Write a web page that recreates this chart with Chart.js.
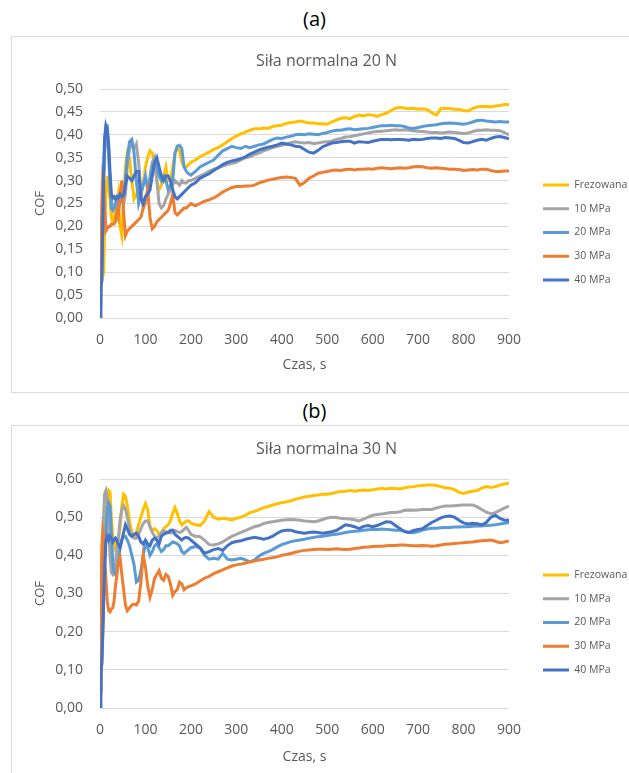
<!DOCTYPE html>
<html>
<head>
<meta charset="utf-8">
<script src="https://cdn.jsdelivr.net/npm/chart.js@4.4.1/dist/chart.umd.min.js"></script>
<style>
  html, body { margin: 0; padding: 0; background: #ffffff; overflow: hidden; width: 629px; height: 773px; }
  .cap { position: absolute; width: 629px; left: 0; text-align: center; font-family: 'Open Sans', sans-serif; font-size: 20px; color: #000; line-height: 24px; }
  .box { position: absolute; border: 1px solid #d9d9d9; background: #fff; }
  canvas { display: block; }
</style>
</head>
<body>
<div class="cap" style="top:7px;">(a)</div>
<div class="box" style="left:11px; top:36px; width:640px; height:355px;"><canvas id="chartA" width="640" height="355"></canvas></div>
<div class="cap" style="top:399px;">(b)</div>
<div class="box" style="left:11px; top:425px; width:640px; height:370px;"><canvas id="chartB" width="640" height="370"></canvas></div>
<script>
// ---------- data ----------
const seriesNames = ['Frezowana', '10 MPa', '20 MPa', '30 MPa', '40 MPa'];
const titleA = 'Siła normalna 20 N';
const titleB = 'Siła normalna 30 N';
const xTitle = 'Czas, s';
const yTitle = 'COF';
const xTicks = [0, 100, 200, 300, 400, 500, 600, 700, 800, 900];
const yTicksA = [0, 0.05, 0.10, 0.15, 0.20, 0.25, 0.30, 0.35, 0.40, 0.45, 0.50];
const yTicksB = [0, 0.10, 0.20, 0.30, 0.40, 0.50, 0.60];

const timeS = [0,2,4,6,8,10,13,16,19,22,25,28,31,34,37,40,44,48,52,56,60,65,70,75,80,85,90,95,100,105,110,115,120,125,130,135,140,145,150,155,160,165,170,175,180,185,190,195,200,
210,220,230,240,250,260,270,280,290,300,310,320,330,340,350,360,370,380,390,400,410,420,430,440,450,460,470,480,490,500,
510,520,530,540,550,560,570,580,590,600,610,620,630,640,650,660,670,680,690,700,710,720,730,740,750,760,770,780,790,800,
810,820,830,840,850,860,870,880,890,900];

// (a) 20 N
const frezA = [0.06,0.09,0.10,0.09,0.10,0.18,0.28,0.31,0.28,0.26,0.22,0.21,0.22,0.24,0.25,0.27,0.20,0.18,0.26,0.33,
0.36,0.35,0.30,0.26,0.27,0.28,0.27,0.29,0.33,0.35,0.365,0.36,0.34,0.30,0.28,0.29,0.31,0.33,0.30,0.30,
0.33,0.36,0.37,0.365,0.34,0.33,0.33,0.335,0.34,
0.345,0.352,0.357,0.362,0.368,0.372,0.378,0.385,0.392,0.397,
0.402,0.406,0.41,0.413,0.413,0.415,0.414,0.418,0.42,0.421,
0.425,0.427,0.428,0.43,0.428,0.426,0.426,0.424,0.424,0.423,
0.428,0.432,0.436,0.437,0.435,0.44,0.443,0.441,0.444,0.443,
0.44,0.444,0.447,0.453,0.458,0.46,0.458,0.457,0.458,0.456,
0.457,0.455,0.448,0.443,0.457,0.458,0.457,0.456,0.455,0.453,
0.452,0.457,0.461,0.462,0.462,0.461,0.463,0.464,0.466,0.466];
const mpa10A = [0.05,0.08,0.12,0.20,0.30,0.36,0.39,0.40,0.36,0.30,0.26,0.24,0.24,0.245,0.25,0.24,0.25,0.26,0.25,0.27,
0.33,0.37,0.38,0.37,0.38,0.34,0.28,0.24,0.25,0.28,0.31,0.34,0.35,0.30,0.25,0.24,0.245,0.26,0.27,0.28,
0.29,0.30,0.295,0.29,0.30,0.295,0.295,0.30,0.30,
0.305,0.31,0.315,0.32,0.325,0.328,0.332,0.335,0.338,0.34,
0.345,0.35,0.352,0.357,0.36,0.365,0.368,0.372,0.375,0.377,
0.38,0.383,0.385,0.383,0.382,0.383,0.381,0.382,0.384,0.385,
0.386,0.39,0.392,0.395,0.396,0.398,0.40,0.402,0.404,0.406,
0.407,0.408,0.409,0.41,0.411,0.41,0.411,0.41,0.409,0.408,
0.407,0.406,0.405,0.405,0.404,0.405,0.406,0.405,0.404,0.403,
0.404,0.407,0.41,0.41,0.411,0.41,0.41,0.409,0.405,0.40];
const mpa20A = [0.03,0.07,0.10,0.20,0.30,0.38,0.42,0.42,0.37,0.29,0.24,0.235,0.24,0.25,0.26,0.25,0.255,0.26,0.27,0.30,
0.35,0.385,0.39,0.36,0.30,0.25,0.27,0.29,0.31,0.28,0.30,0.33,0.34,0.33,0.31,0.30,0.31,0.30,0.28,0.29,
0.30,0.36,0.375,0.377,0.37,0.33,0.32,0.315,0.312,
0.32,0.33,0.335,0.34,0.345,0.355,0.365,0.37,0.375,0.372,
0.37,0.375,0.372,0.375,0.378,0.38,0.385,0.39,0.393,0.392,
0.395,0.397,0.40,0.401,0.40,0.402,0.401,0.40,0.403,0.405,
0.408,0.41,0.41,0.412,0.413,0.411,0.412,0.413,0.414,0.416,
0.418,0.42,0.42,0.421,0.42,0.42,0.418,0.415,0.414,0.416,
0.418,0.42,0.421,0.422,0.424,0.425,0.426,0.425,0.424,0.423,
0.425,0.428,0.431,0.432,0.43,0.429,0.428,0.429,0.428,0.428];
const mpa30A = [0.07,0.12,0.25,0.31,0.30,0.25,0.19,0.195,0.20,0.20,0.205,0.205,0.205,0.21,0.23,0.22,0.27,0.30,0.23,0.18,
0.19,0.195,0.20,0.205,0.21,0.215,0.22,0.24,0.26,0.28,0.22,0.195,0.20,0.21,0.215,0.22,0.225,0.23,0.235,0.25,
0.27,0.23,0.225,0.23,0.235,0.24,0.24,0.245,0.25,
0.245,0.25,0.255,0.258,0.262,0.268,0.275,0.28,0.285,0.287,
0.287,0.288,0.288,0.29,0.295,0.298,0.301,0.303,0.305,0.307,
0.308,0.307,0.305,0.29,0.296,0.305,0.31,0.316,0.318,0.32,
0.322,0.323,0.322,0.324,0.325,0.323,0.325,0.325,0.326,0.325,
0.327,0.328,0.327,0.326,0.327,0.328,0.327,0.328,0.33,0.331,
0.33,0.328,0.327,0.328,0.327,0.326,0.325,0.325,0.324,0.322,
0.323,0.324,0.323,0.325,0.325,0.322,0.32,0.32,0.321,0.321];
const mpa40A = [0.00,0.07,0.08,0.20,0.32,0.39,0.42,0.41,0.38,0.32,0.27,0.262,0.265,0.26,0.265,0.262,0.27,0.265,0.268,0.29,
0.31,0.305,0.30,0.31,0.32,0.32,0.26,0.25,0.265,0.27,0.28,0.31,0.34,0.35,0.33,0.31,0.30,0.31,0.31,0.30,
0.28,0.265,0.26,0.265,0.27,0.275,0.28,0.285,0.29,
0.295,0.305,0.31,0.315,0.322,0.328,0.335,0.34,0.343,0.345,
0.348,0.352,0.358,0.362,0.367,0.37,0.373,0.375,0.378,0.382,
0.38,0.378,0.375,0.374,0.368,0.362,0.36,0.366,0.374,0.378,
0.382,0.383,0.385,0.386,0.386,0.382,0.385,0.384,0.383,0.386,
0.388,0.39,0.39,0.389,0.39,0.39,0.389,0.388,0.39,0.389,
0.39,0.392,0.393,0.393,0.392,0.394,0.393,0.392,0.388,0.383,
0.382,0.385,0.388,0.39,0.388,0.392,0.395,0.396,0.394,0.391];

// (b) 30 N
const frezB = [0.05,0.08,0.12,0.20,0.30,0.40,0.50,0.56,0.57,0.565,0.50,0.45,0.42,0.43,0.42,0.44,0.47,0.53,0.56,0.555,
0.53,0.49,0.46,0.45,0.46,0.48,0.50,0.52,0.535,0.52,0.475,0.465,0.47,0.465,0.455,0.46,0.47,0.475,0.48,0.49,
0.51,0.525,0.51,0.49,0.48,0.485,0.49,0.49,0.485,
0.48,0.478,0.49,0.515,0.50,0.495,0.497,0.495,0.493,0.497,
0.50,0.505,0.512,0.515,0.52,0.525,0.528,0.532,0.535,0.538,
0.54,0.543,0.547,0.55,0.553,0.555,0.557,0.558,0.56,0.56,
0.562,0.565,0.567,0.568,0.57,0.568,0.57,0.571,0.57,0.572,
0.574,0.575,0.574,0.576,0.575,0.574,0.577,0.579,0.58,0.582,
0.583,0.584,0.584,0.583,0.58,0.577,0.576,0.572,0.565,0.562,
0.566,0.568,0.57,0.576,0.58,0.578,0.58,0.584,0.587,0.589];
const mpa10B = [0.05,0.10,0.22,0.38,0.50,0.56,0.57,0.55,0.47,0.40,0.355,0.35,0.36,0.38,0.42,0.44,0.49,0.52,0.53,0.52,
0.50,0.47,0.45,0.445,0.445,0.455,0.47,0.483,0.49,0.49,0.475,0.46,0.45,0.445,0.45,0.46,0.465,0.462,0.46,0.458,
0.462,0.465,0.462,0.46,0.462,0.468,0.473,0.465,0.455,
0.45,0.449,0.44,0.428,0.427,0.43,0.435,0.443,0.45,0.455,
0.46,0.465,0.47,0.475,0.478,0.483,0.486,0.488,0.49,0.492,
0.493,0.494,0.493,0.492,0.49,0.489,0.488,0.49,0.494,0.498,
0.50,0.499,0.497,0.496,0.495,0.493,0.49,0.495,0.50,0.505,
0.507,0.508,0.51,0.512,0.512,0.514,0.518,0.519,0.518,0.519,
0.52,0.52,0.52,0.524,0.527,0.529,0.529,0.53,0.531,0.532,
0.532,0.532,0.527,0.52,0.513,0.509,0.512,0.518,0.524,0.529];
const mpa20B = [0.04,0.08,0.12,0.18,0.28,0.38,0.46,0.52,0.537,0.53,0.46,0.38,0.355,0.35,0.355,0.38,0.42,0.44,0.45,0.45,
0.44,0.425,0.40,0.375,0.33,0.335,0.36,0.40,0.43,0.42,0.40,0.41,0.425,0.43,0.42,0.41,0.415,0.425,0.425,0.43,
0.435,0.433,0.43,0.425,0.41,0.405,0.41,0.415,0.42,
0.423,0.42,0.40,0.39,0.392,0.39,0.405,0.39,0.388,0.39,
0.392,0.388,0.383,0.388,0.398,0.405,0.41,0.415,0.422,0.428,
0.432,0.436,0.438,0.44,0.442,0.445,0.447,0.449,0.45,0.452,
0.454,0.455,0.457,0.46,0.462,0.463,0.464,0.466,0.467,0.468,
0.468,0.469,0.468,0.467,0.466,0.466,0.463,0.46,0.459,0.462,
0.466,0.469,0.471,0.471,0.472,0.473,0.473,0.474,0.474,0.475,
0.475,0.476,0.477,0.477,0.478,0.479,0.48,0.482,0.484,0.486];
const mpa30B = [0.05,0.25,0.42,0.465,0.45,0.40,0.34,0.28,0.255,0.252,0.26,0.262,0.28,0.32,0.345,0.38,0.395,0.35,0.31,0.27,
0.255,0.262,0.27,0.272,0.27,0.28,0.33,0.40,0.37,0.32,0.29,0.31,0.34,0.35,0.36,0.34,0.335,0.35,0.345,0.325,
0.295,0.305,0.31,0.33,0.325,0.31,0.315,0.318,0.32,
0.325,0.333,0.34,0.345,0.352,0.357,0.362,0.367,0.372,0.375,
0.377,0.38,0.383,0.385,0.388,0.39,0.392,0.394,0.396,0.40,
0.402,0.405,0.408,0.411,0.413,0.414,0.415,0.416,0.416,0.415,
0.416,0.417,0.416,0.415,0.416,0.418,0.419,0.421,0.422,0.423,
0.424,0.424,0.425,0.426,0.426,0.427,0.427,0.426,0.425,0.425,
0.426,0.425,0.424,0.425,0.427,0.429,0.43,0.431,0.432,0.433,
0.434,0.435,0.437,0.438,0.439,0.44,0.437,0.433,0.435,0.438];
const mpa40B = [0.00,0.09,0.12,0.20,0.28,0.36,0.44,0.45,0.44,0.45,0.445,0.435,0.44,0.445,0.44,0.43,0.42,0.44,0.46,0.48,
0.47,0.455,0.45,0.455,0.458,0.45,0.435,0.43,0.44,0.43,0.425,0.44,0.445,0.44,0.43,0.45,0.455,0.458,0.46,0.465,
0.466,0.455,0.45,0.445,0.44,0.445,0.447,0.445,0.44,
0.43,0.42,0.405,0.41,0.415,0.418,0.413,0.425,0.433,0.436,
0.438,0.442,0.445,0.447,0.445,0.442,0.445,0.45,0.458,0.464,
0.466,0.466,0.462,0.46,0.458,0.46,0.461,0.46,0.458,0.46,
0.462,0.465,0.472,0.48,0.478,0.475,0.47,0.476,0.478,0.475,
0.478,0.483,0.488,0.487,0.478,0.47,0.462,0.46,0.465,0.468,
0.47,0.478,0.486,0.492,0.498,0.502,0.503,0.50,0.492,0.485,
0.482,0.484,0.483,0.48,0.486,0.50,0.505,0.497,0.492,0.492];

const seriesColors = ['#FFC000', '#A5A5A5', '#5B9BD5', '#ED7D31', '#4472C4'];

// ---------- layout / style ----------
const FAMILY = "'Open Sans', sans-serif";
const TEXT = '#595959';
const GRID = '#d9d9d9';
Chart.defaults.font.family = FAMILY;
Chart.defaults.color = TEXT;

function measureMax(texts, size) {
  const ctx = document.createElement('canvas').getContext('2d');
  ctx.font = size + 'px ' + FAMILY;
  return Math.max(...texts.map(t => ctx.measureText(t).width));
}

function buildChart(canvasId, title, yMax, yTicks, seriesList, L) {
  const legSize = 10.5, legPad = 13.25, boxW = 26;
  const tw = measureMax(seriesNames, legSize);
  const legW = legPad + boxW + legSize / 2 + tw + 4;
  const gapW = L.legendX - legPad - L.plotRight;
  const legendRight = L.legendX - legPad + legW;
  const padL = Math.max(0, Math.min(20, 2 * L.titleCX - legendRight));
  const padR = Math.max(0, L.W - legendRight);
  const titleLH = 16 * 1.2;
  const titlePadTop = L.titleY - titleLH / 2;
  const titlePadBottom = L.plotTop - titlePadTop - titleLH;
  const tickLH = 14 * 1.2;
  const xTitleLH = 14 * 1.2;
  const yTitleLH = 13 * 1.2;

  const datasets = seriesList.map((vals, i) => ({
    label: seriesNames[i],
    data: timeS.map((t, k) => ({ x: t, y: vals[k] })),
    borderColor: seriesColors[i],
    backgroundColor: seriesColors[i],
    borderWidth: 3,
    pointRadius: 0,
    tension: 0,
    fill: false,
    order: 5 - i,
    xAxisID: 'x',
    yAxisID: 'y'
  }));

  return new Chart(document.getElementById(canvasId), {
    type: 'line',
    data: { datasets },
    options: {
      responsive: false,
      animation: false,
      devicePixelRatio: 1,
      layout: { padding: { left: padL, right: padR, top: 0, bottom: 0 } },
      plugins: {
        tooltip: { enabled: false },
        title: {
          display: true, text: title, color: TEXT,
          font: { size: 16, weight: 'normal', family: FAMILY },
          padding: { top: titlePadTop, bottom: titlePadBottom }
        },
        legend: {
          display: true, position: 'right', align: 'start', reverse: true,
          title: { display: true, text: ' ', font: { size: 10 }, padding: { top: L.legendY - legPad - legSize / 2 - 12, bottom: 0 } },
          labels: { boxWidth: boxW, boxHeight: 0, padding: legPad, color: TEXT, font: { size: legSize, family: FAMILY } }
        }
      },
      scales: {
        x: {
          type: 'linear', position: 'bottom', min: 0, max: 900,
          afterBuildTicks: (s) => { s.ticks = xTicks.map(v => ({ value: v })); },
          afterFit: (s) => { s.height = L.H - L.plotBottom; },
          grid: { display: false, drawTicks: false },
          border: { display: false },
          ticks: { color: TEXT, font: { size: 14 }, padding: L.xTickY - L.plotBottom - tickLH / 2, maxRotation: 0, autoSkip: false },
          title: { display: true, text: xTitle, color: TEXT, font: { size: 14 }, padding: { top: 0, bottom: L.H - L.xTitleY - xTitleLH / 2 } }
        },
        y: {
          type: 'linear', position: 'left', min: 0, max: yMax,
          afterBuildTicks: (s) => { s.ticks = yTicks.map(v => ({ value: v })); },
          afterFit: (s) => { s.width = L.plotLeft - padL; },
          grid: { color: GRID, lineWidth: 1, drawTicks: false },
          border: { display: false },
          ticks: { color: TEXT, font: { size: 14 }, padding: L.plotLeft - L.tickRight, callback: (v) => Number(v).toFixed(2).replace('.', ',') },
          title: { display: true, text: yTitle, color: TEXT, font: { size: 13 }, padding: { top: L.cofX - padL - yTitleLH / 2, bottom: 0 } }
        },
        gap: {
          type: 'linear', position: 'right', display: true,
          afterFit: (s) => { s.width = gapW; },
          grid: { display: false, drawTicks: false },
          border: { display: false },
          ticks: { display: false }
        }
      }
    }
  });
}

buildChart('chartA', titleA, 0.5, yTicksA, [frezA, mpa10A, mpa20A, mpa30A, mpa40A],
  { W: 640, H: 355, titleY: 24, plotTop: 52, plotBottom: 281, plotLeft: 88, plotRight: 497, tickRight: 71, cofX: 28,
    xTickY: 303, xTitleY: 328, legendX: 531, legendY: 148, titleCX: 314.5 });
buildChart('chartB', titleB, 0.6, yTicksB, [frezB, mpa10B, mpa20B, mpa30B, mpa40B],
  { W: 640, H: 370, titleY: 23, plotTop: 53, plotBottom: 282, plotLeft: 88, plotRight: 497, tickRight: 71, cofX: 28,
    xTickY: 304, xTitleY: 331, legendX: 531, legendY: 149, titleCX: 314.5 });
</script>
</body>
</html>
